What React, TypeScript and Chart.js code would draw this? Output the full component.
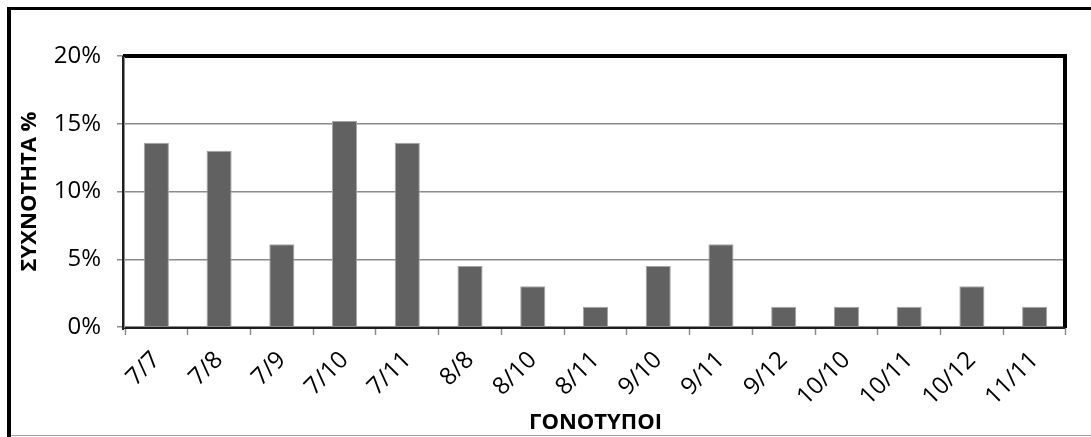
import React, { useEffect, useRef } from 'react';
import { Chart, registerables } from 'chart.js';

Chart.register(...registerables);

// Genotype frequencies (%)
const genotypes = ['7/7', '7/8', '7/9', '7/10', '7/11', '8/8', '8/10', '8/11', '9/10', '9/11', '9/12', '10/10', '10/11', '10/12', '11/11'];
const frequencies = [13.6, 13.0, 6.1, 15.2, 13.6, 4.5, 3.0, 1.5, 4.5, 6.1, 1.5, 1.5, 1.5, 3.0, 1.5];
const yTickValues = [0, 5, 10, 15, 20];
const yTitle = 'ΣΥΧΝΟΤΗΤΑ %';
const xTitle = 'ΓΟΝΟΤΥΠΟΙ';

const FONT = '"Open Sans", "Noto Sans", sans-serif';
const GRID = '#8c8c8c';

// White background plus the outer box and the heavy plot frame
const framePlugin = {
  id: 'frame',
  beforeDraw(chart: any) {
    const { ctx, width, height } = chart;
    ctx.save();
    ctx.fillStyle = '#ffffff';
    ctx.fillRect(0, 0, width, height);
    ctx.restore();
  },
  afterDraw(chart: any) {
    const { ctx, chartArea: a, width, height } = chart;
    ctx.save();
    // outer box: heavy left and top, thin grey bottom
    ctx.fillStyle = '#000';
    ctx.fillRect(7, 7, 4, height - 7);
    ctx.fillRect(7, 7, width - 7, 3);
    ctx.fillStyle = '#a0a0a0';
    ctx.fillRect(11, height - 2, width - 11, 1);
    // plot area frame
    ctx.fillStyle = '#000';
    ctx.fillRect(a.left - 2, a.top - 2, a.right - a.left + 3, 4);
    ctx.fillRect(a.right - 3, a.top - 2, 4, a.bottom - a.top + 3);
    ctx.fillStyle = '#1e1e1e';
    ctx.fillRect(a.left - 3, a.top, 2, a.bottom - a.top + 3);
    ctx.fillRect(a.left - 3, a.bottom, a.right - a.left + 2, 2);
    ctx.fillStyle = '#8c8c8c';
    ctx.fillRect(a.left - 1, a.top + 1, 1, a.bottom - a.top);
    ctx.restore();
  },
};

export default function App() {
  const canvasRef = useRef<HTMLCanvasElement | null>(null);

  useEffect(() => {
    if (!canvasRef.current) return;
    const chart = new Chart(canvasRef.current, {
      type: 'bar',
      data: {
        labels: genotypes,
        datasets: [
          {
            data: frequencies,
            backgroundColor: '#616161',
            borderColor: '#a5a5a5',
            borderWidth: 1,
            barPercentage: 0.4,
            categoryPercentage: 1,
          },
        ],
      },
      options: {
        animation: false,
        responsive: false,
        events: [],
        layout: { padding: { top: 56, right: 25, bottom: 0, left: 0 } },
        plugins: { legend: { display: false }, tooltip: { enabled: false } },
        scales: {
          x: {
            grid: {
              display: true,
              drawOnChartArea: false,
              drawTicks: true,
              tickLength: 8,
              tickColor: GRID,
              tickWidth: 1.5,
              offset: true,
            },
            border: { display: false },
            ticks: {
              color: '#000',
              font: { family: FONT, size: 24 },
              minRotation: 45,
              maxRotation: 45,
              padding: 11,
              autoSkip: false,
            },
            title: {
              display: true,
              text: xTitle,
              color: '#000',
              font: { family: FONT, size: 22, weight: 'bold' },
              padding: { top: 0, bottom: 1 },
            },
            afterFit(scale: any) {
              scale.height = 110;
            },
          },
          y: {
            min: 0,
            max: 20,
            afterBuildTicks(scale: any) {
              scale.ticks = yTickValues.map((v) => ({ value: v }));
            },
            grid: {
              color: GRID,
              lineWidth: 1.5,
              tickLength: 8,
              tickColor: GRID,
            },
            border: { display: false },
            ticks: {
              color: '#000',
              font: { family: FONT, size: 24 },
              padding: 16,
              callback: (v: any) => `${v}%`,
            },
            title: {
              display: true,
              text: yTitle,
              color: '#000',
              font: { family: FONT, size: 22, weight: 'bold' },
              padding: { top: 17, bottom: 0 },
            },
            afterFit(scale: any) {
              scale.width = 125;
            },
          },
        },
      },
      plugins: [framePlugin],
    });
    return () => chart.destroy();
  }, []);

  return (
    <div style={{ position: 'fixed', left: 0, top: 0, width: 1091, height: 437, background: '#fff' }}>
      <canvas ref={canvasRef} width={1091} height={437} style={{ display: 'block', width: 1091, height: 437 }} />
    </div>
  );
}
